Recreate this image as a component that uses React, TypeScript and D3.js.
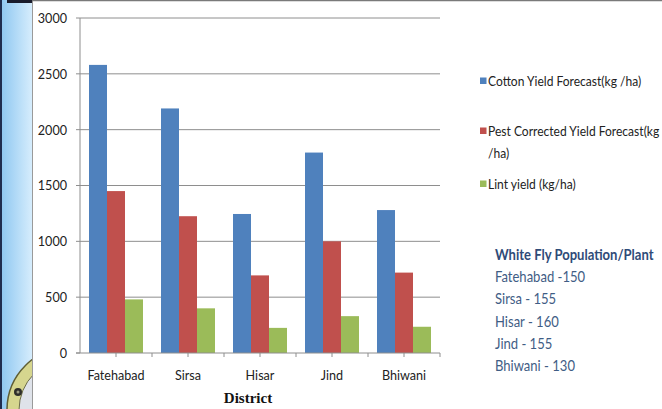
import React from "react";
import * as d3 from "d3";

const districts = ["Fatehabad", "Sirsa", "Hisar", "Jind", "Bhiwani"];
const seriesNames = [
  "Cotton Yield Forecast(kg /ha)",
  "Pest Corrected Yield Forecast(kg /ha)",
  "Lint yield (kg/ha)",
];
const cottonForecast = [2580, 2190, 1245, 1795, 1280];
const pestCorrected = [1450, 1225, 695, 1000, 720];
const lintYield = [480, 400, 225, 330, 235];
const yTicks = [0, 500, 1000, 1500, 2000, 2500, 3000];
const whiteFlyTitle = "White Fly Population/Plant";
const whiteFlyLines = ["Fatehabad -150", "Sirsa - 155", "Hisar - 160", "Jind - 155", "Bhiwani - 130"];

const colors = ["#4F81BD", "#C0504D", "#9BBB59"];
const FONT = "Lato, 'Open Sans', sans-serif";
const SX = 0.9; // horizontal condensing for the narrow sans-serif look

type TProps = {
  x: number;
  y: number;
  children: React.ReactNode;
  anchor?: "start" | "middle" | "end";
  size?: number;
  weight?: string;
  fill?: string;
};

function CText({ x, y, children, anchor = "start", size = 14, weight = "normal", fill = "#222" }: TProps) {
  return (
    <text
      transform={`translate(${x},${y}) scale(${SX},1)`}
      textAnchor={anchor}
      dy="0.35em"
      fontFamily={FONT}
      fontSize={size}
      fontWeight={weight}
      fill={fill}
    >
      {children}
    </text>
  );
}

export default function App() {
  const W = 662;
  const H = 409;
  const plot = { left: 80, right: 440, top: 18, bottom: 353 };

  const x = d3.scaleBand<string>().domain(districts).range([plot.left, plot.right]).paddingInner(0).paddingOuter(0);
  const inner = d3
    .scaleBand<number>()
    .domain([0, 1, 2])
    .range([0, x.bandwidth()])
    .paddingOuter(0.5)
    .paddingInner(0);
  const y = d3.scaleLinear().domain([0, 3000]).range([plot.bottom, plot.top]);

  const series = [cottonForecast, pestCorrected, lintYield];
  const halfStep = x.bandwidth() / 2;
  const xTickPositions = d3.range(plot.left + halfStep, plot.right + 0.1, halfStep);

  return (
    <svg width={W} height={H} style={{ position: "absolute", left: 0, top: 0 }}>
      <defs>
        <linearGradient id="side" x1="0" x2="1" y1="0" y2="0">
          <stop offset="0" stopColor="#8cc6f0" />
          <stop offset="1" stopColor="#d6edfd" />
        </linearGradient>
        <clipPath id="sideClip">
          <rect x={0} y={0} width={32} height={H} />
        </clipPath>
      </defs>
      {/* slide background strip */}
      <rect x={0} y={0} width={W} height={H} fill="#ffffff" />
      <rect x={0} y={0} width={32} height={H} fill="url(#side)" />
      <rect x={0} y={0} width={2} height={H} fill="#1f2d4f" />
      <rect x={7} y={0} width={25} height={3} fill="#1a1c2c" />
      <g clipPath="url(#sideClip)">
        <circle cx={70} cy={410} r={63} fill="#d6d68e" stroke="#5f5e34" strokeWidth={1.5} />
        <circle cx={70} cy={410} r={51} fill="#dfe3ea" stroke="#6d6d48" strokeWidth={1} />
        <circle cx={18} cy={392} r={4} fill="#2e2e2a" />
        <circle cx={18} cy={392} r={1.5} fill="#9a9a80" />
      </g>
      <line x1={32.5} x2={32.5} y1={0} y2={H} stroke="#9a9a9a" strokeWidth={1} />
      <line x1={32} x2={W} y1={0.5} y2={0.5} stroke="#7a7a7a" strokeWidth={1.5} />

      {/* gridlines and y axis */}
      {yTicks.map((t) => (
        <g key={t}>
          {t > 0 && (
            <line x1={plot.left} x2={plot.right} y1={y(t)} y2={y(t)} stroke="#8e8e8e" strokeWidth={1} />
          )}
          <line x1={plot.left - 4} x2={plot.left} y1={y(t)} y2={y(t)} stroke="#8e8e8e" strokeWidth={1} />
          <CText x={67} y={y(t)} anchor="end" size={14}>
            {t}
          </CText>
        </g>
      ))}
      <line x1={plot.left} x2={plot.left} y1={plot.top} y2={plot.bottom} stroke="#8e8e8e" strokeWidth={1} />

      {/* bars */}
      {districts.map((d, i) => (
        <g key={d} transform={`translate(${x(d)},0)`}>
          {series.map((vals, s) => (
            <rect
              key={s}
              x={inner(s)}
              y={y(vals[i])}
              width={inner.bandwidth()}
              height={plot.bottom - y(vals[i])}
              fill={colors[s]}
            />
          ))}
        </g>
      ))}

      {/* x axis */}
      <line x1={plot.left - 4} x2={plot.right} y1={plot.bottom} y2={plot.bottom} stroke="#8e8e8e" strokeWidth={1} />
      {xTickPositions.map((p) => (
        <line key={p} x1={p} x2={p} y1={plot.bottom} y2={plot.bottom + 4} stroke="#8e8e8e" strokeWidth={1} />
      ))}
      {districts.map((d) => (
        <CText key={d} x={(x(d) as number) + x.bandwidth() / 2} y={375} anchor="middle" size={14}>
          {d}
        </CText>
      ))}
      <text
        x={248}
        y={403}
        textAnchor="middle"
        fontFamily="'Liberation Serif', 'DejaVu Serif', serif"
        fontWeight="bold"
        fontSize={15}
        fill="#111"
      >
        District
      </text>

      {/* legend */}
      {[
        { lines: [seriesNames[0]], y: 81 },
        { lines: ["Pest Corrected Yield Forecast(kg", "/ha)"], y: 131 },
        { lines: [seriesNames[2]], y: 184 },
      ].map((item, i) => (
        <g key={i}>
          <rect x={480} y={item.y - 3.5} width={6.5} height={6.5} fill={colors[i]} />
          {item.lines.map((ln, j) => (
            <CText key={j} x={488} y={item.y + j * 22} size={13.4}>
              {ln}
            </CText>
          ))}
        </g>
      ))}

      {/* white fly note */}
      <CText x={495} y={255} size={14.5} weight="bold" fill="#2f4b78">
        {whiteFlyTitle}
      </CText>
      {whiteFlyLines.map((ln, i) => (
        <CText key={ln} x={495} y={277 + i * 22.3} size={14.5} fill="#3f5d85">
          {ln}
        </CText>
      ))}
    </svg>
  );
}
